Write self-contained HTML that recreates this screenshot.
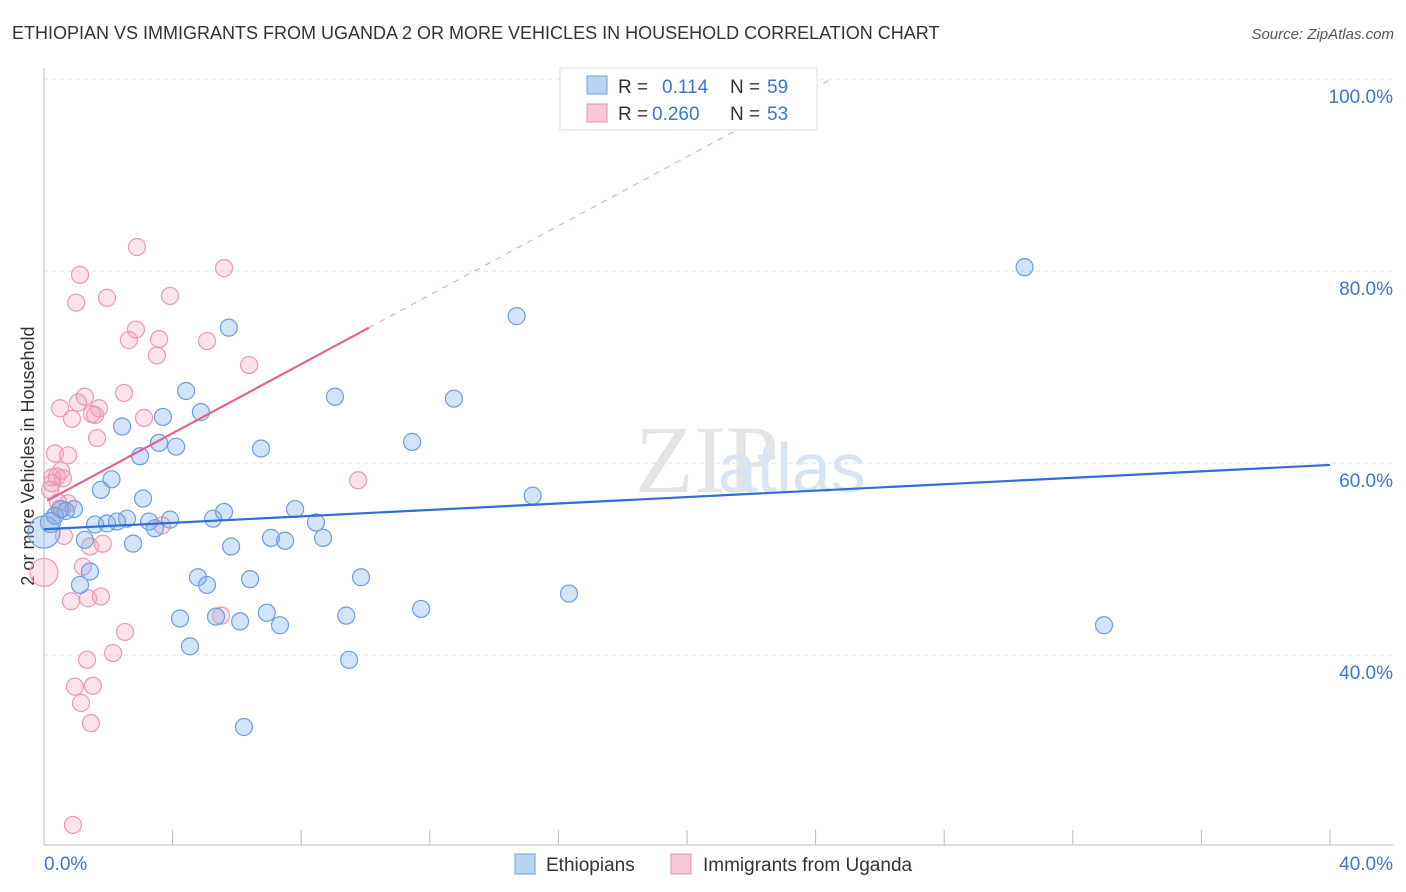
<!DOCTYPE html>
<html><head><meta charset="utf-8">
<style>
body{margin:0;background:#fff;font-family:"Liberation Sans",sans-serif;}
svg{display:block}
</style></head>
<body>
<svg id="chart" width="1406" height="892" xmlns="http://www.w3.org/2000/svg">
<text x="12" y="39" font-size="18" fill="#333">ETHIOPIAN VS IMMIGRANTS FROM UGANDA 2 OR MORE VEHICLES IN HOUSEHOLD CORRELATION CHART</text>
<text x="1394" y="39" font-size="15" fill="#555" font-style="italic" text-anchor="end">Source: ZipAtlas.com</text>
<text x="28" y="456" font-size="18" fill="#333" text-anchor="middle" transform="rotate(-90 28 456)" dy="6">2 or more Vehicles in Household</text>
<g id="grid"></g>
<text x="635" y="492" font-size="96" fill="#e4e4e4" font-family="Liberation Serif,serif">ZIP</text>
<text x="718" y="492" font-size="70" fill="#d6e4f4">atlas</text>
<g id="pts"></g>
<g id="lines"></g>
<g>
<rect x="560" y="68" width="257" height="62" fill="#fff" stroke="#ddd"/>
<rect x="587" y="76" width="20" height="18" fill="#b9d3f3" stroke="#6fa0e0"/>
<text x="618" y="93" font-size="19" fill="#333">R =</text><text x="662" y="93" font-size="19" fill="#3a76d0">0.114</text>
<text x="730" y="93" font-size="19" fill="#333">N =</text><text x="767" y="93" font-size="19" fill="#3a76d0">59</text>
<rect x="587" y="104" width="20" height="18" fill="#f8c8d6" stroke="#e890b0"/>
<text x="618" y="120" font-size="19" fill="#333">R =</text><text x="652" y="120" font-size="19" fill="#3a76d0">0.260</text>
<text x="730" y="120" font-size="19" fill="#333">N =</text><text x="767" y="120" font-size="19" fill="#3a76d0">53</text>
</g>
<g>
<rect x="515" y="854" width="20" height="20" fill="#b9d3f3" stroke="#6fa0e0"/>
<text x="546" y="871" font-size="19" fill="#333">Ethiopians</text>
<rect x="671" y="854" width="20" height="20" fill="#f8c8d6" stroke="#e890b0"/>
<text x="703" y="871" font-size="19" fill="#333">Immigrants from Uganda</text>
</g>
</svg>
<script>
const yTicks=[40,60,80,100];
const xTickLabels=["0.0%","40.0%"];
const blueX=[30.5,14.7,5.75,9.05,12.75,4.42,4.88,3.7,2.43,3.58,4.11,6.75,11.45,2.99,2.1,1.77,3.08,15.2,7.81,5.6,5.26,0.93,0.5,0.34,0.68,2.58,1.59,1.96,2.27,3.27,3.92,3.45,8.46,7.06,7.5,8.68,5.82,2.77,1.27,1.43,1.12,4.79,5.07,6.41,9.86,16.33,11.73,4.23,5.35,6.1,6.93,7.34,9.4,32.97,4.54,9.49,6.22,0.0,0.2];
const blueY=[80.4,75.3,74.1,66.9,66.7,67.5,65.3,64.8,63.8,62.1,61.7,61.5,62.2,60.7,58.3,57.2,56.3,56.6,55.2,54.9,54.2,55.2,55.2,54.5,55.0,54.2,53.6,53.7,53.9,53.9,54.1,53.2,53.8,52.2,51.9,52.2,51.3,51.6,52.0,48.7,47.3,48.1,47.3,47.9,48.1,46.4,44.8,43.8,44.0,43.5,44.4,43.1,44.1,43.1,40.9,39.5,32.5,52.8,53.8];
const pinkX=[2.89,1.12,5.6,1.96,1.0,3.92,2.86,2.64,3.58,5.07,3.51,6.38,2.49,1.27,1.06,0.5,1.71,1.59,1.49,0.87,3.11,1.65,0.34,0.75,0.53,0.4,0.25,0.59,9.77,0.19,0.75,0.56,0.34,3.67,0.62,1.43,1.83,0.0,1.21,0.84,1.37,1.77,5.51,2.52,2.15,1.34,0.96,1.52,1.15,1.46,0.9,0.25,0.44];
const pinkY=[82.5,79.6,80.3,77.2,76.7,77.4,73.9,72.8,72.9,72.7,71.2,70.2,67.3,66.9,66.3,65.7,65.7,65.0,65.1,64.6,64.7,62.6,61.0,60.8,59.2,58.6,58.5,58.4,58.2,57.2,55.8,55.2,54.5,53.5,52.4,51.3,51.6,48.6,49.2,45.6,45.9,46.1,44.1,42.4,40.2,39.5,36.7,36.8,35.0,32.9,22.3,57.9,55.9];
const blueR=[8.5,8.5,8.5,8.5,8.5,8.5,8.5,8.5,8.5,8.5,8.5,8.5,8.5,8.5,8.5,8.5,8.5,8.5,8.5,8.5,8.5,8.5,8.5,8.5,8.5,8.5,8.5,8.5,8.5,8.5,8.5,8.5,8.5,8.5,8.5,8.5,8.5,8.5,8.5,8.5,8.5,8.5,8.5,8.5,8.5,8.5,8.5,8.5,8.5,8.5,8.5,8.5,8.5,8.5,8.5,8.5,8.5,16,10];
const blueTrend=[53.1,59.8];
const pinkTrend=[55.9,1.80];
const X=v=>44+v/40*1286, Y=v=>79+(100-v)*9.6;
const NS="http://www.w3.org/2000/svg";
function mk(tag,attrs,parent){const e=document.createElementNS(NS,tag);for(const k in attrs)e.setAttribute(k,attrs[k]);parent.appendChild(e);return e;}
const grid=document.getElementById('grid');
yTicks.forEach(t=>{
 const l=mk('line',{x1:44,x2:1393,y1:Y(t),y2:Y(t),stroke:'#ddd','stroke-dasharray':'4,4'},grid);
 
 
 const tx=mk('text',{x:1393,y:Y(t)+24,'font-size':19,fill:'#3a76d0','text-anchor':'end'},grid);
 tx.textContent=t.toFixed(1)+'%';
 
 
});
const ax=mk('line',{x1:44,x2:44,y1:68,y2:845,stroke:'#bbb'},grid);


const bx=mk('line',{x1:44,x2:1393,y1:845,y2:845,stroke:'#bbb'},grid);


for(let i=0;i<=10;i++){const t=mk('line',{x1:X(i*4),x2:X(i*4),y1:830,y2:845,stroke:'#bbb'},grid);
 
 }
[[0,'start',44],[1,'end',1393]].forEach(([i,a,x])=>{const t=mk('text',{x:x,y:870,'font-size':19,fill:'#3a76d0','text-anchor':a},grid);t.textContent=xTickLabels[i];
 
 });
const pts=document.getElementById('pts');
pinkX.forEach((x,i)=>{const c=mk('circle',{cx:X(x),cy:Y(pinkY[i]),r:i==37?14:8.5,fill:'rgba(244,160,188,0.3)',stroke:'#eb98b6','stroke-width':1.2},pts);
 
 });
blueX.forEach((x,i)=>{const c=mk('circle',{cx:X(x),cy:Y(blueY[i]),r:blueR[i],fill:'rgba(130,175,235,0.35)',stroke:'#6c9ee0','stroke-width':1.2},pts);
 
 });
const lines=document.getElementById('lines');
const bl=mk('line',{x1:X(0),y1:Y(blueTrend[0]),x2:X(40),y2:Y(blueTrend[1]),stroke:'#2f6fd3','stroke-width':2.2},lines);


const pe=x=>pinkTrend[0]+pinkTrend[1]*x;
const pl=mk('line',{x1:X(0.1),y1:Y(pe(0.1)),x2:X(10.1),y2:Y(pe(10.1)),stroke:'#e4638f','stroke-width':2.2},lines);


const xe=(100-pinkTrend[0])/pinkTrend[1];
const pd=mk('line',{x1:X(10.1),y1:Y(pe(10.1)),x2:X(xe),y2:Y(100),stroke:'#e8a0b8','stroke-width':1,'stroke-dasharray':'6,6'},lines);


</script>
</body></html>
